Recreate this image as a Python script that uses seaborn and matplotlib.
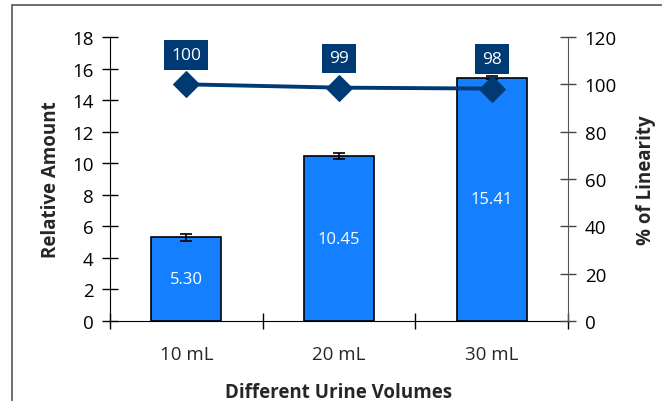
import numpy as np
import matplotlib
matplotlib.use("Agg")
import matplotlib.pyplot as plt
import seaborn as sns
from matplotlib.patches import Rectangle

# данные
volumes = ["10 mL", "20 mL", "30 mL"]
amounts = [5.30, 10.45, 15.41]
amount_err = [0.20, 0.18, 0.10]
linearity = [100.0, 98.6, 98.2]

sns.set_style("white")
plt.rcParams["font.family"] = ["Open Sans", "DejaVu Sans"]

fig = plt.figure(figsize=(6.62, 4.02), dpi=100)
ax = fig.add_axes([110 / 662, 80 / 402, 458 / 662, 284 / 402])

bar_color = "#1580FF"
navy = "#003A75"

sns.barplot(x=volumes, y=amounts, color=bar_color, edgecolor="black",
            linewidth=1.2, width=0.46, errorbar=None, saturation=1, ax=ax)
ax.errorbar(np.arange(len(volumes)), amounts, yerr=amount_err, fmt="none",
            ecolor="black", elinewidth=1.2, capsize=4, capthick=1.2, zorder=5)

for i, v in enumerate(amounts):
    ax.text(i, v / 2, f"{v:.2f}", color="white", ha="center", va="center",
            fontsize=12)

ax.set_xlim(-0.5, 2.5)
ax.set_ylim(0, 18)
ax.set_yticks(range(0, 19, 2))
ax.set_ylabel("Relative Amount", fontsize=13.5, fontweight="bold", labelpad=8)
ax.set_xlabel("Different Urine Volumes", fontsize=13.5, fontweight="bold", labelpad=14)

# правая ось
ax2 = ax.twinx()
sns.lineplot(x=np.arange(len(volumes)), y=linearity, ax=ax2, color=navy,
             linewidth=2.8, marker="D", markersize=13, markeredgecolor=navy,
             sort=False, zorder=6)
for i, v in enumerate(linearity):
    ax2.annotate(f"{v:.0f}", (i, v), xytext=(0, 21), textcoords="offset points",
                 ha="center", va="center", color="white", fontsize=12.5,
                 bbox=dict(boxstyle="square,pad=0.4", fc=navy, ec="none"))
ax2.set_ylim(0, 120)
ax2.set_yticks(range(0, 121, 20))
ax2.set_ylabel("% of Linearity", fontsize=13.5, fontweight="bold", labelpad=14)

# оси и деления
ax.spines["top"].set_visible(False)
ax.spines["right"].set_visible(False)
for s in ("left", "bottom", "top"):
    ax2.spines[s].set_visible(False)
ax.spines["left"].set_color("black")
ax.spines["bottom"].set_color("black")
ax2.spines["right"].set_color("#555555")

ax.tick_params(axis="y", direction="inout", length=12, width=1, colors="black",
               labelsize=13.5, left=True, pad=6)
ax2.tick_params(axis="y", direction="inout", length=12, width=1, colors="#444444",
                labelcolor="black", labelsize=13.5, right=True, pad=6)
ax.set_xticks([-0.5, 0.5, 1.5, 2.5], minor=False)
ax.set_xticklabels([])
ax.set_xticks(np.arange(len(volumes)), minor=True)
ax.set_xticklabels(volumes, minor=True)
ax.tick_params(axis="x", which="major", direction="inout", length=12, width=1,
               bottom=True, colors="black")
ax.tick_params(axis="x", which="minor", length=0, labelsize=13.5, pad=17)

# рамка области диаграммы
fig.add_artist(Rectangle((12 / 662, -0.05), 1.1, (402 - 6) / 402 + 0.05,
                         transform=fig.transFigure, fill=False,
                         edgecolor="#555555", linewidth=1.2))

plt.savefig("out.png", dpi=100)
plt.close()
